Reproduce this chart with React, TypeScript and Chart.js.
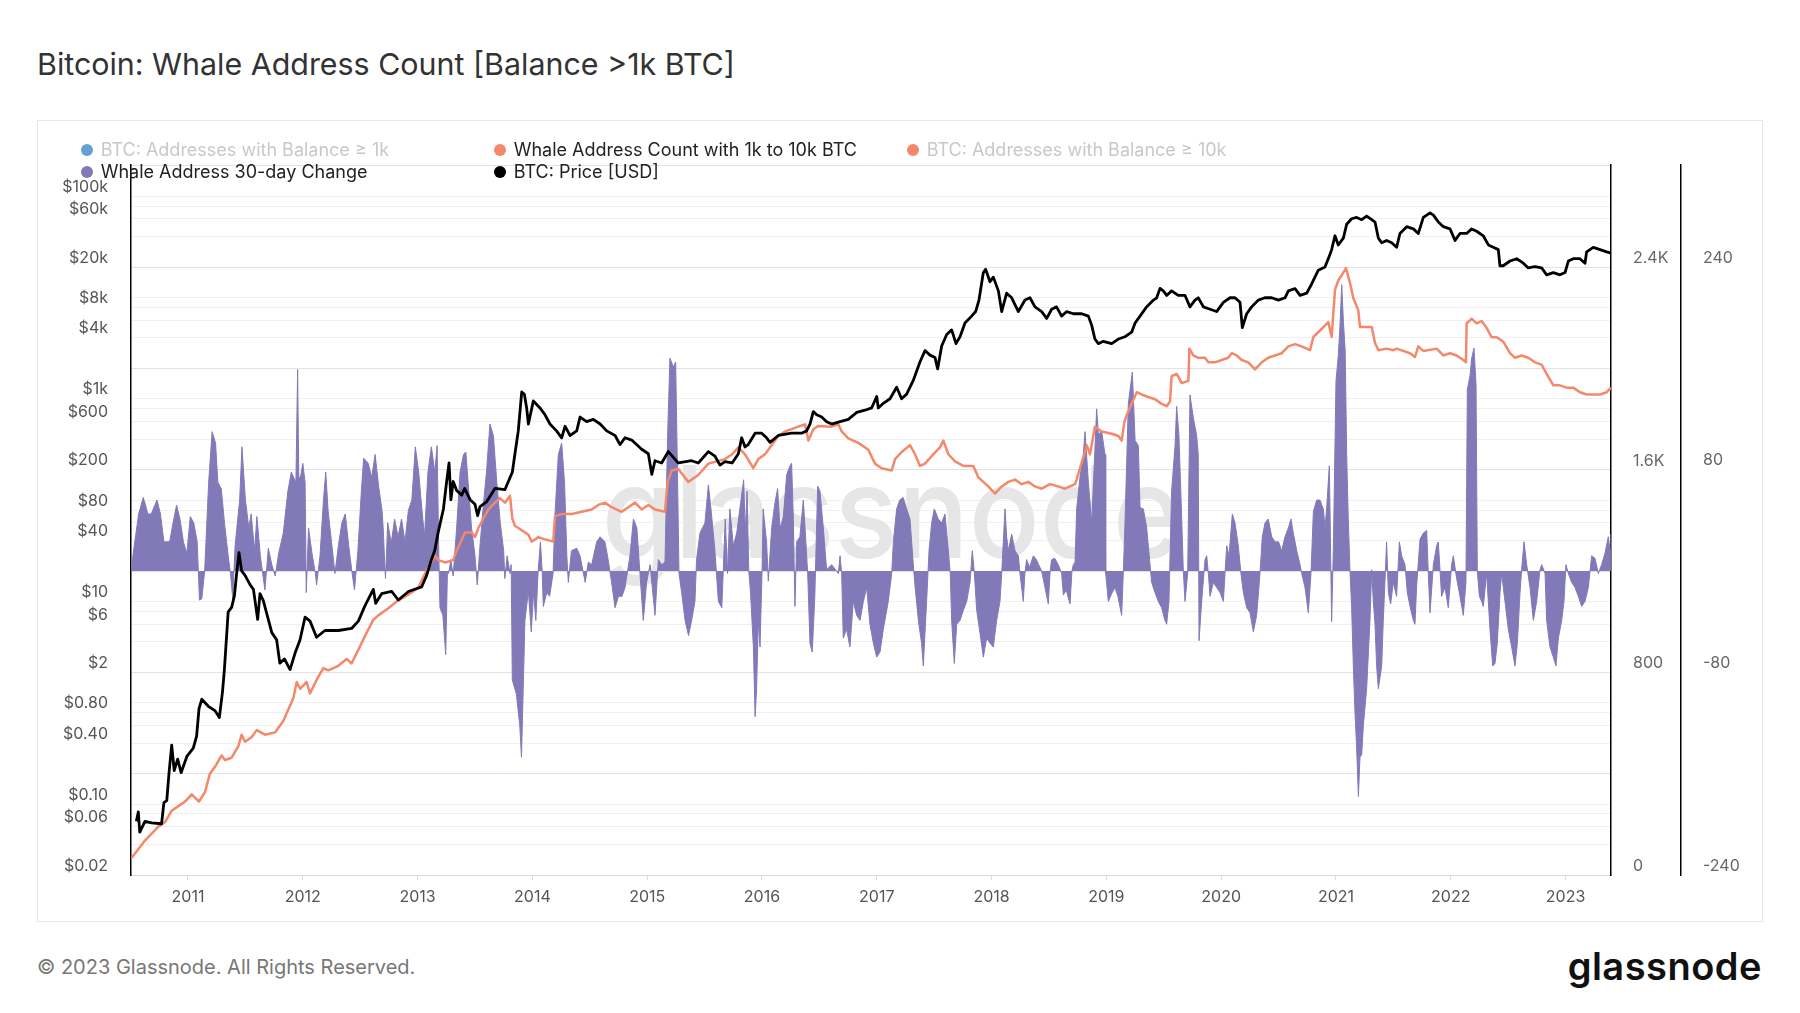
import React, { useEffect, useRef } from 'react';
import Chart from 'chart.js/auto';

// [decimal year, value]
const btcPrice: [number, number][] = [
  [2010.55, 0.055], [2010.567, 0.068], [2010.58, 0.043], [2010.625, 0.055], [2010.683, 0.053],
  [2010.77, 0.052], [2010.79, 0.084], [2010.815, 0.088], [2010.835, 0.166], [2010.858, 0.31],
  [2010.88, 0.174], [2010.91, 0.226], [2010.94, 0.166], [2010.99, 0.24], [2011.046, 0.29],
  [2011.075, 0.38], [2011.096, 0.71], [2011.12, 0.88], [2011.177, 0.75], [2011.235, 0.68],
  [2011.273, 0.58], [2011.3, 1.03], [2011.317, 1.73], [2011.33, 2.9], [2011.35, 6.4],
  [2011.38, 7.1], [2011.404, 9.2], [2011.424, 15.5], [2011.444, 24.7], [2011.467, 16.3],
  [2011.497, 14.7], [2011.54, 11.9], [2011.57, 10.7], [2011.607, 5.4], [2011.627, 9.7],
  [2011.656, 8.3], [2011.73, 4.0], [2011.772, 3.4], [2011.8, 2.0], [2011.84, 2.2],
  [2011.889, 1.73], [2011.932, 2.5], [2011.976, 3.4], [2012.02, 5.7], [2012.063, 5.2],
  [2012.12, 3.6], [2012.193, 4.2], [2012.31, 4.2], [2012.425, 4.4], [2012.484, 5.2],
  [2012.542, 7.4], [2012.614, 10.7], [2012.635, 7.8], [2012.687, 9.7], [2012.774, 10.2],
  [2012.832, 8.4], [2012.92, 10.2], [2013.035, 11.3], [2013.079, 14.7], [2013.12, 21],
  [2013.15, 26], [2013.18, 39.5], [2013.225, 66.5], [2013.253, 124], [2013.274, 189],
  [2013.29, 82], [2013.31, 124], [2013.34, 101], [2013.384, 91], [2013.41, 106],
  [2013.457, 82], [2013.5, 74], [2013.523, 57], [2013.544, 70], [2013.6, 78],
  [2013.674, 106], [2013.76, 103], [2013.825, 153], [2013.848, 233], [2013.877, 392],
  [2013.907, 950], [2013.93, 900], [2013.95, 660], [2013.965, 458], [2014.008, 773],
  [2014.066, 660], [2014.11, 565], [2014.153, 458], [2014.21, 392], [2014.255, 335],
  [2014.284, 435], [2014.328, 353], [2014.386, 392], [2014.415, 537], [2014.473, 483],
  [2014.53, 509], [2014.59, 458], [2014.647, 392], [2014.72, 353], [2014.763, 287],
  [2014.807, 335], [2014.865, 318], [2014.952, 258], [2015.01, 233], [2015.04, 146],
  [2015.068, 199], [2015.126, 189], [2015.184, 245], [2015.271, 189], [2015.387, 199],
  [2015.445, 189], [2015.533, 245], [2015.59, 221], [2015.634, 180], [2015.678, 195],
  [2015.74, 189], [2015.794, 233], [2015.823, 335], [2015.852, 272], [2015.88, 287],
  [2015.94, 372], [2015.997, 372], [2016.04, 335], [2016.07, 302], [2016.142, 353],
  [2016.258, 372], [2016.345, 372], [2016.389, 392], [2016.418, 458], [2016.447, 608],
  [2016.476, 565], [2016.52, 537], [2016.563, 483], [2016.607, 458], [2016.68, 483],
  [2016.752, 509], [2016.825, 596], [2016.897, 627], [2016.955, 660], [2016.999, 857],
  [2017.013, 660], [2017.057, 733], [2017.115, 813], [2017.173, 1057], [2017.216, 813],
  [2017.26, 903], [2017.318, 1235], [2017.376, 1875], [2017.42, 2430], [2017.463, 2193],
  [2017.507, 2080], [2017.53, 1603], [2017.565, 2700], [2017.609, 3506], [2017.652, 3890],
  [2017.69, 2845], [2017.725, 3327], [2017.768, 4550], [2017.826, 5320], [2017.861, 5900],
  [2017.89, 7660], [2017.928, 14300], [2017.948, 15400], [2017.986, 11630], [2018.015, 12900],
  [2018.059, 9440], [2018.088, 5900], [2018.131, 8960], [2018.175, 8070], [2018.233, 5900],
  [2018.291, 7660], [2018.334, 8070], [2018.378, 6560], [2018.436, 5900], [2018.48, 5050],
  [2018.523, 6220], [2018.566, 6560], [2018.61, 5320], [2018.654, 5900], [2018.712, 5610],
  [2018.785, 5610], [2018.843, 5320], [2018.872, 4310], [2018.9, 3160], [2018.93, 2845],
  [2018.973, 3000], [2019.046, 2845], [2019.104, 3160], [2019.162, 3330], [2019.22, 3690],
  [2019.25, 4550], [2019.293, 5320], [2019.35, 6560], [2019.41, 7660], [2019.438, 8070],
  [2019.467, 9990], [2019.496, 9440], [2019.525, 8510], [2019.568, 9440], [2019.626, 8510],
  [2019.685, 8510], [2019.728, 6560], [2019.772, 7660], [2019.8, 8070], [2019.845, 6560],
  [2019.903, 6220], [2019.96, 5900], [2020.019, 7280], [2020.077, 8070], [2020.12, 8070],
  [2020.164, 7280], [2020.184, 4100], [2020.222, 5610], [2020.265, 6560], [2020.324, 7660],
  [2020.38, 8070], [2020.44, 8070], [2020.498, 7660], [2020.556, 8070], [2020.585, 9440],
  [2020.643, 9950], [2020.687, 8510], [2020.745, 8960], [2020.788, 11040], [2020.846, 15100],
  [2020.904, 16200], [2020.948, 21700], [2020.962, 24100], [2020.991, 33000], [2021.02, 26800],
  [2021.064, 31300], [2021.093, 42900], [2021.136, 48600], [2021.18, 50100], [2021.224, 47600],
  [2021.267, 51700], [2021.311, 47600], [2021.34, 45100], [2021.369, 31300], [2021.398, 28200],
  [2021.441, 29700], [2021.485, 28200], [2021.528, 25400], [2021.557, 34800], [2021.616, 40600],
  [2021.674, 38600], [2021.717, 34800], [2021.761, 50100], [2021.819, 55600], [2021.848, 52800],
  [2021.892, 45100], [2021.935, 40600], [2021.993, 38600], [2022.037, 29700], [2022.08, 34800],
  [2022.138, 34800], [2022.182, 38600], [2022.225, 36600], [2022.283, 33000], [2022.327, 26800],
  [2022.37, 25400], [2022.414, 24100], [2022.428, 16700], [2022.457, 16700], [2022.516, 18600],
  [2022.574, 19600], [2022.632, 17700], [2022.675, 15900], [2022.733, 16400], [2022.791, 15900],
  [2022.835, 13600], [2022.893, 14300], [2022.951, 13600], [2022.995, 14300], [2023.024, 18600],
  [2023.067, 19600], [2023.125, 19600], [2023.169, 17700], [2023.183, 22900], [2023.241, 25400],
  [2023.3, 24100], [2023.358, 22900], [2023.395, 22300],
];

const whaleCount: [number, number][] = [
  [2010.503, 64], [2010.625, 136], [2010.742, 191], [2010.8, 209], [2010.858, 254], [2010.916, 272],
  [2010.974, 290], [2011.032, 318], [2011.096, 290], [2011.148, 327], [2011.191, 400], [2011.235, 427],
  [2011.293, 472], [2011.322, 454], [2011.38, 463], [2011.438, 508], [2011.467, 554], [2011.497, 526],
  [2011.555, 545], [2011.598, 572], [2011.671, 554], [2011.758, 563], [2011.83, 608], [2011.874, 653],
  [2011.918, 699], [2011.947, 762], [2011.976, 735], [2012.034, 762], [2012.063, 717], [2012.121, 771],
  [2012.179, 817], [2012.222, 808], [2012.309, 826], [2012.382, 853], [2012.425, 835], [2012.484, 889],
  [2012.542, 944], [2012.614, 1007], [2012.658, 1025], [2012.745, 1053], [2012.818, 1080], [2012.919, 1107],
  [2013.006, 1134], [2013.064, 1189], [2013.151, 1261], [2013.18, 1243], [2013.24, 1234], [2013.31, 1243],
  [2013.34, 1279], [2013.413, 1352], [2013.471, 1352], [2013.5, 1334], [2013.529, 1370], [2013.573, 1407],
  [2013.616, 1443], [2013.674, 1470], [2013.718, 1488], [2013.761, 1470], [2013.805, 1497], [2013.825, 1407],
  [2013.848, 1379], [2013.907, 1361], [2013.965, 1343], [2013.994, 1316], [2014.052, 1334], [2014.11, 1325],
  [2014.182, 1316], [2014.197, 1416], [2014.255, 1425], [2014.342, 1425], [2014.429, 1434], [2014.516, 1443],
  [2014.574, 1461], [2014.632, 1470], [2014.69, 1452], [2014.778, 1434], [2014.836, 1452], [2014.894, 1470],
  [2014.952, 1443], [2015.01, 1461], [2015.068, 1443], [2015.155, 1434], [2015.178, 1552], [2015.213, 1597],
  [2015.271, 1603], [2015.358, 1552], [2015.445, 1579], [2015.533, 1624], [2015.678, 1642], [2015.74, 1661],
  [2015.794, 1688], [2015.852, 1661], [2015.924, 1606], [2015.968, 1642], [2016.026, 1661], [2016.084, 1697],
  [2016.142, 1733], [2016.2, 1751], [2016.258, 1760], [2016.316, 1770], [2016.375, 1779], [2016.404, 1715],
  [2016.447, 1760], [2016.491, 1773], [2016.607, 1770], [2016.665, 1779], [2016.694, 1751], [2016.752, 1724],
  [2016.839, 1706], [2016.926, 1679], [2016.984, 1624], [2017.042, 1606], [2017.13, 1597], [2017.159, 1642],
  [2017.217, 1670], [2017.289, 1697], [2017.333, 1661], [2017.376, 1615], [2017.42, 1624], [2017.492, 1661],
  [2017.55, 1688], [2017.58, 1715], [2017.623, 1661], [2017.681, 1633], [2017.754, 1615], [2017.841, 1615],
  [2017.884, 1570], [2017.971, 1534], [2018.03, 1506], [2018.088, 1534], [2018.146, 1552], [2018.204, 1561],
  [2018.262, 1543], [2018.32, 1552], [2018.378, 1534], [2018.436, 1525], [2018.509, 1543], [2018.581, 1534],
  [2018.639, 1525], [2018.727, 1543], [2018.741, 1561], [2018.77, 1606], [2018.814, 1670], [2018.828, 1697],
  [2018.857, 1661], [2018.9, 1770], [2018.959, 1751], [2019.046, 1742], [2019.104, 1733], [2019.133, 1715],
  [2019.156, 1788], [2019.177, 1815], [2019.22, 1860], [2019.264, 1906], [2019.307, 1897], [2019.365, 1887],
  [2019.423, 1878], [2019.481, 1860], [2019.525, 1851], [2019.554, 1869], [2019.568, 1969], [2019.612, 1978],
  [2019.656, 1942], [2019.714, 1951], [2019.723, 2078], [2019.757, 2051], [2019.8, 2042], [2019.859, 2042],
  [2019.888, 2024], [2019.946, 2024], [2020.004, 2033], [2020.062, 2042], [2020.091, 2060], [2020.135, 2051],
  [2020.178, 2033], [2020.236, 2024], [2020.294, 1996], [2020.353, 2024], [2020.41, 2042], [2020.469, 2051],
  [2020.527, 2060], [2020.585, 2087], [2020.643, 2096], [2020.701, 2087], [2020.774, 2072], [2020.803, 2124],
  [2020.89, 2163], [2020.933, 2183], [2020.962, 2124], [2020.991, 2309], [2021.02, 2348], [2021.05, 2368],
  [2021.087, 2396], [2021.122, 2337], [2021.151, 2277], [2021.194, 2230], [2021.209, 2163], [2021.311, 2163],
  [2021.34, 2100], [2021.369, 2072], [2021.441, 2078], [2021.5, 2072], [2021.528, 2078], [2021.645, 2060],
  [2021.688, 2045], [2021.717, 2087], [2021.761, 2069], [2021.877, 2078], [2021.935, 2051], [2021.993, 2060],
  [2022.051, 2051], [2022.109, 2033], [2022.132, 2024], [2022.138, 2178], [2022.182, 2196], [2022.225, 2178],
  [2022.269, 2187], [2022.312, 2160], [2022.356, 2123], [2022.4, 2123], [2022.458, 2105], [2022.516, 2060],
  [2022.559, 2042], [2022.617, 2051], [2022.675, 2042], [2022.733, 2024], [2022.791, 2015], [2022.835, 1978],
  [2022.893, 1933], [2022.951, 1933], [2023.009, 1924], [2023.067, 1924], [2023.125, 1906], [2023.183, 1897],
  [2023.3, 1897], [2023.358, 1906], [2023.395, 1924],
];

const whaleChange30d: [number, number][] = [
  [2010.51, 0], [2010.52, 12], [2010.57, 45], [2010.61, 58], [2010.63, 52], [2010.65, 45], [2010.68, 45],
  [2010.73, 56], [2010.76, 45], [2010.79, 23], [2010.84, 23], [2010.87, 38], [2010.9, 52], [2010.93, 41],
  [2010.96, 23], [2010.99, 14], [2011.02, 43], [2011.05, 38], [2011.08, 23], [2011.09, 0], [2011.1, -23],
  [2011.12, -22], [2011.145, 0], [2011.18, 70], [2011.21, 110], [2011.24, 101], [2011.26, 70], [2011.29, 65],
  [2011.32, 36], [2011.35, 12], [2011.37, -2], [2011.39, -22], [2011.41, 20], [2011.45, 56], [2011.47, 98],
  [2011.5, 56], [2011.53, 34], [2011.55, 45], [2011.58, 16], [2011.6, 43], [2011.63, 12], [2011.67, -15],
  [2011.7, 18], [2011.73, 5], [2011.76, -4], [2011.79, 14], [2011.83, 30], [2011.87, 63], [2011.9, 78],
  [2011.94, 70], [2011.955, 159], [2011.965, 74], [2011.98, 74], [2012.0, 85], [2012.02, 70], [2012.03, -17],
  [2012.05, 34], [2012.08, 14], [2012.11, -2], [2012.12, -11], [2012.15, 12], [2012.18, 56], [2012.2, 78],
  [2012.22, 48], [2012.25, 23], [2012.28, -2], [2012.31, 20], [2012.34, 38], [2012.37, 45], [2012.4, 20],
  [2012.43, -2], [2012.45, -15], [2012.48, 16], [2012.51, 63], [2012.53, 89], [2012.57, 85], [2012.6, 74],
  [2012.63, 92], [2012.66, 67], [2012.69, 48], [2012.7, 34], [2012.72, -6], [2012.74, 38], [2012.77, 22],
  [2012.8, 41], [2012.83, 27], [2012.86, 41], [2012.89, 23], [2012.92, 48], [2012.95, 56], [2012.98, 98],
  [2013.01, 78], [2013.03, 56], [2013.06, 27], [2013.09, 78], [2013.12, 98], [2013.15, 78], [2013.17, 99],
  [2013.185, 12], [2013.195, -29], [2013.22, -35], [2013.245, -66], [2013.26, 0], [2013.27, -2], [2013.29, 9],
  [2013.31, -4], [2013.34, 34], [2013.37, 78], [2013.4, 92], [2013.42, 94], [2013.44, 70], [2013.47, 34],
  [2013.5, 12], [2013.52, -11], [2013.54, 16], [2013.57, 49], [2013.6, 78], [2013.63, 116], [2013.66, 107],
  [2013.69, 70], [2013.72, 38], [2013.75, 16], [2013.76, -6], [2013.78, 12], [2013.805, -2], [2013.815, 5],
  [2013.825, -86], [2013.86, -97], [2013.89, -122], [2013.905, -147], [2013.92, -93], [2013.935, -39],
  [2013.965, -16], [2013.99, -48], [2014.01, -17], [2014.03, -39], [2014.05, 0], [2014.07, 23], [2014.085, 0],
  [2014.095, -28], [2014.125, -17], [2014.15, -20], [2014.18, -2], [2014.197, 45], [2014.226, 92],
  [2014.255, 101], [2014.28, 70], [2014.3, 12], [2014.313, -9], [2014.34, 16], [2014.386, 18], [2014.415, 12],
  [2014.46, -9], [2014.487, 7], [2014.516, 5], [2014.56, 23], [2014.59, 27], [2014.632, 23], [2014.66, 9],
  [2014.69, -9], [2014.72, -29], [2014.75, -20], [2014.78, -20], [2014.807, -13], [2014.85, 12], [2014.88, 41],
  [2014.91, 34], [2014.937, -2], [2014.966, -39], [2014.995, -9], [2015.025, 5], [2015.068, -35], [2015.097, 9],
  [2015.126, 5], [2015.155, 7], [2015.178, 107], [2015.198, 168], [2015.228, 161], [2015.248, 165],
  [2015.265, 70], [2015.277, -2], [2015.3, -17], [2015.33, -39], [2015.36, -51], [2015.387, -39],
  [2015.416, -24], [2015.43, 9], [2015.46, 30], [2015.503, 38], [2015.533, 68], [2015.56, 45], [2015.59, 16],
  [2015.62, -24], [2015.65, -29], [2015.68, 41], [2015.7, -2], [2015.72, 49], [2015.75, 20], [2015.78, 30],
  [2015.84, 72], [2015.855, 30], [2015.87, 63], [2015.885, 0], [2015.9, -17], [2015.925, -60], [2015.94, -115],
  [2015.953, -93], [2015.968, -39], [2015.983, -60], [2016.0, -2], [2016.01, 49], [2016.04, 23], [2016.055, -8],
  [2016.084, 34], [2016.113, 54], [2016.136, 65], [2016.157, 34], [2016.186, 43], [2016.215, 76],
  [2016.244, 83], [2016.258, 85], [2016.273, 41], [2016.287, -28], [2016.302, 23], [2016.33, 27], [2016.36, 56],
  [2016.375, 34], [2016.398, -2], [2016.418, -57], [2016.438, -64], [2016.46, -20], [2016.485, 67],
  [2016.505, 63], [2016.534, 34], [2016.563, 1], [2016.607, 5], [2016.665, -2], [2016.68, 12], [2016.694, -2],
  [2016.708, -53], [2016.737, -46], [2016.766, -60], [2016.795, -24], [2016.825, -35], [2016.854, -39],
  [2016.883, -24], [2016.912, -13], [2016.94, -42], [2016.97, -57], [2016.999, -68], [2017.028, -64],
  [2017.057, -46], [2017.1, -24], [2017.13, -2], [2017.144, 23], [2017.173, 49], [2017.2, 56], [2017.23, 58],
  [2017.26, 49], [2017.289, 41], [2017.318, 5], [2017.33, -9], [2017.362, -39], [2017.39, -57], [2017.405, -75],
  [2017.434, -24], [2017.455, 16], [2017.478, 38], [2017.501, 49], [2017.536, 41], [2017.565, 38],
  [2017.594, 45], [2017.623, 16], [2017.64, -2], [2017.652, -39], [2017.675, -73], [2017.696, -42],
  [2017.725, -39], [2017.754, -31], [2017.783, -24], [2017.812, -9], [2017.832, 16], [2017.85, -2],
  [2017.87, -31], [2017.899, -49], [2017.928, -68], [2017.957, -53], [2017.986, -57], [2018.015, -60],
  [2018.044, -39], [2018.073, -24], [2018.088, -2], [2018.102, 23], [2018.117, 49], [2018.131, 27],
  [2018.146, 16], [2018.175, 29], [2018.204, 16], [2018.233, 12], [2018.247, -2], [2018.276, -24],
  [2018.29, -2], [2018.305, 9], [2018.33, 3], [2018.364, 12], [2018.39, 9], [2018.41, 5], [2018.436, 0],
  [2018.465, -13], [2018.494, -26], [2018.51, 0], [2018.523, 9], [2018.55, 10], [2018.581, 5], [2018.61, -2],
  [2018.625, -19], [2018.65, -15], [2018.683, -26], [2018.7, 0], [2018.712, 5], [2018.727, 7], [2018.741, 49],
  [2018.77, 74], [2018.799, 92], [2018.814, 110], [2018.843, 70], [2018.872, 38], [2018.9, 96], [2018.915, 128],
  [2018.93, 108], [2018.959, 110], [2018.988, 92], [2018.994, -2], [2019.017, -24], [2019.045, -18],
  [2019.075, -13], [2019.1, -20], [2019.133, -35], [2019.148, 0], [2019.162, 38], [2019.191, 132],
  [2019.226, 157], [2019.25, 103], [2019.278, 99], [2019.293, 50], [2019.322, 49], [2019.351, 34], [2019.38, 5],
  [2019.394, -9], [2019.423, -17], [2019.452, -24], [2019.481, -29], [2019.51, -39], [2019.525, -42],
  [2019.545, -24], [2019.568, 63], [2019.598, 99], [2019.612, 130], [2019.632, 107], [2019.656, 41],
  [2019.67, 0], [2019.685, -24], [2019.708, -2], [2019.728, 139], [2019.757, 121], [2019.786, 107],
  [2019.8, 92], [2019.807, -55], [2019.83, -24], [2019.859, 9], [2019.874, 12], [2019.888, -2], [2019.903, -20],
  [2019.932, -9], [2019.96, -13], [2019.99, -17], [2020.019, -24], [2020.033, -2], [2020.048, 20],
  [2020.068, 12], [2020.097, 45], [2020.12, 38], [2020.149, 20], [2020.172, -2], [2020.193, -17],
  [2020.222, -29], [2020.251, -33], [2020.28, -48], [2020.309, -35], [2020.338, -2], [2020.358, 27],
  [2020.382, 38], [2020.41, 41], [2020.44, 27], [2020.469, 23], [2020.5, 23], [2020.527, 16], [2020.556, 27],
  [2020.585, 34], [2020.608, 41], [2020.628, 30], [2020.658, 16], [2020.687, 5], [2020.701, -2], [2020.73, -13],
  [2020.759, -33], [2020.782, -2], [2020.803, 47], [2020.832, 56], [2020.86, 56], [2020.89, 49], [2020.904, 34],
  [2020.919, 50], [2020.942, 83], [2020.962, -40], [2020.977, 18], [2021.0, 150], [2021.02, 170],
  [2021.035, 194], [2021.05, 226], [2021.065, 196], [2021.08, 174], [2021.093, 92], [2021.107, 41],
  [2021.122, 0], [2021.136, -28], [2021.151, -75], [2021.165, -111], [2021.18, -140], [2021.195, -178],
  [2021.209, -147], [2021.224, -145], [2021.238, -122], [2021.267, -93], [2021.296, -39], [2021.311, 1],
  [2021.325, -24], [2021.34, -42], [2021.354, -75], [2021.369, -93], [2021.398, -75], [2021.412, -39],
  [2021.441, 23], [2021.456, -17], [2021.476, -26], [2021.499, -9], [2021.528, -20], [2021.552, 23],
  [2021.572, 12], [2021.601, 5], [2021.621, -17], [2021.645, -28], [2021.674, -39], [2021.688, -42],
  [2021.703, -11], [2021.732, 25], [2021.761, 30], [2021.79, 32], [2021.804, -2], [2021.819, -33],
  [2021.848, 5], [2021.877, 20], [2021.891, 23], [2021.92, -20], [2021.949, -13], [2021.978, -29],
  [2022.007, 5], [2022.022, 12], [2022.051, -6], [2022.08, -20], [2022.109, -35], [2022.132, -9],
  [2022.144, 143], [2022.167, 154], [2022.182, 168], [2022.202, 176], [2022.22, 147], [2022.231, 0],
  [2022.249, -20], [2022.269, -24], [2022.283, -28], [2022.312, -2], [2022.327, -24], [2022.341, -46],
  [2022.365, -75], [2022.385, -73], [2022.405, -57], [2022.429, -17], [2022.443, -2], [2022.472, -24],
  [2022.501, -46], [2022.53, -60], [2022.559, -75], [2022.58, -57], [2022.603, -17], [2022.617, 1],
  [2022.638, 23], [2022.661, 5], [2022.69, -13], [2022.719, -39], [2022.748, -24], [2022.777, 1],
  [2022.792, 5], [2022.821, -2], [2022.835, -39], [2022.864, -60], [2022.893, -68], [2022.916, -75],
  [2022.937, -53], [2022.966, -39], [2022.986, -24], [2023.003, 5], [2023.024, -2], [2023.053, -9],
  [2023.082, -13], [2023.111, -20], [2023.14, -28], [2023.169, -24], [2023.198, -13], [2023.227, 12],
  [2023.256, 10], [2023.285, -2], [2023.314, 5], [2023.343, 14], [2023.372, 27], [2023.387, 16], [2023.395, 29],
];

const yearTicks = [2011, 2012, 2013, 2014, 2015, 2016, 2017, 2018, 2019, 2020, 2021, 2022, 2023];
const priceTicks = [100000, 60000, 20000, 8000, 4000, 1000, 600, 200, 80, 40, 10, 6, 2, 0.8, 0.4, 0.1, 0.06, 0.02];
const priceTickLabels = ['$100k', '$60k', '$20k', '$8k', '$4k', '$1k', '$600', '$200', '$80', '$40', '$10', '$6', '$2', '$0.80', '$0.40', '$0.10', '$0.06', '$0.02'];
const whaleTicks = [0, 800, 1600, 2400];
const whaleTickLabels = ['0', '800', '1.6K', '2.4K'];
const changeTicks = [-240, -80, 80, 240];
const changeTickLabels = ['-240', '-80', '80', '240'];

const legendItems = [
  { label: 'BTC: Addresses with Balance ≥ 1k', color: '#64a0d2', active: false },
  { label: 'Whale Address Count with 1k to 10k BTC', color: '#f4886b', active: true },
  { label: 'BTC: Addresses with Balance ≥ 10k', color: '#f4886b', active: false },
  { label: 'Whale Address 30-day Change', color: '#8279b8', active: true },
  { label: 'BTC: Price [USD]', color: '#000000', active: true },
];

const FONT = 'Inter, "Noto Sans", sans-serif';

const watermark = {
  id: 'watermark',
  beforeDatasetsDraw(chart: any) {
    const { ctx, chartArea } = chart;
    const w = chartArea.right - chartArea.left;
    const h = chartArea.bottom - chartArea.top;
    ctx.save();
    ctx.font = '500 128px Inter';
    ctx.fillStyle = '#e6e6e6';
    ctx.textBaseline = 'alphabetic';
    ctx.textAlign = 'left';
    const text = 'glassnode';
    const tw = ctx.measureText(text).width;
    const target = w * 0.392;
    const cx = chartArea.left + w * 0.514;
    const by = chartArea.top + h * 0.553;
    ctx.translate(cx - target / 2, by);
    ctx.scale(target / tw, 1);
    ctx.fillText(text, 0, 0);
    ctx.restore();
  },
};

const WhaleChart: React.FC = () => {
  const canvasRef = useRef<HTMLCanvasElement | null>(null);

  useEffect(() => {
    if (!canvasRef.current) return;
    Chart.defaults.font.family = FONT;
    Chart.defaults.font.size = 16;
    Chart.defaults.color = '#555';

    const chart = new Chart(canvasRef.current, {
      type: 'line',
      data: {
        datasets: [
          {
            label: 'BTC: Price [USD]',
            data: btcPrice.map(([x, y]) => ({ x, y })),
            yAxisID: 'y',
            borderColor: '#000',
            borderWidth: 2.8,
            borderJoinStyle: 'round',
            pointRadius: 0,
            tension: 0,
            order: 1,
          },
          {
            label: 'Whale Address Count with 1k to 10k BTC',
            data: whaleCount.map(([x, y]) => ({ x, y })),
            yAxisID: 'y1',
            borderColor: '#f4886b',
            borderWidth: 2.5,
            borderJoinStyle: 'round',
            pointRadius: 0,
            tension: 0,
            order: 2,
          },
          {
            label: 'Whale Address 30-day Change',
            data: whaleChange30d.map(([x, y]) => ({ x, y })),
            yAxisID: 'y2',
            borderColor: '#8279b8',
            backgroundColor: '#8279b8',
            borderWidth: 1,
            pointRadius: 0,
            tension: 0,
            fill: 'origin',
            order: 3,
          },
        ],
      },
      options: {
        animation: false,
        responsive: false,
        layout: { padding: { top: 44, left: 0, right: 0, bottom: 0 } },
        plugins: { legend: { display: false }, tooltip: { enabled: false } },
        scales: {
          x: {
            type: 'linear',
            min: 2010.5035,
            max: 2023.3955,
            afterBuildTicks: (s: any) => { s.ticks = yearTicks.map((v) => ({ value: v })); },
            afterFit: (s: any) => { s.height = 46; },
            ticks: { callback: (v: any) => String(v), padding: 8, color: '#555', autoSkip: false, maxRotation: 0 },
            grid: { drawOnChartArea: false, drawTicks: true, tickLength: 5, color: '#dcdcdc' },
            border: { color: '#dcdcdc', width: 1 },
          },
          y: {
            type: 'logarithmic',
            position: 'left',
            min: 0.016232,
            max: 164860,
            afterBuildTicks: (s: any) => { s.ticks = priceTicks.map((v) => ({ value: v })); },
            afterFit: (s: any) => { s.width = 93; },
            ticks: { callback: (_v: any, i: number) => priceTickLabels[i], padding: 23, color: '#555', autoSkip: false },
            grid: { display: false, drawTicks: false },
            border: { color: '#000', width: 1.5 },
          },
          y1: {
            type: 'linear',
            position: 'right',
            weight: 1,
            min: 0,
            max: 2803,
            afterBuildTicks: (s: any) => {
              const t: { value: number }[] = [];
              for (let k = 0; k < 7; k++) {
                t.push({ value: k * 400 });
                [2, 3, 4, 5].forEach((m) => t.push({ value: (k + Math.log10(m)) * 400 }));
              }
              t.push({ value: 2800 });
              s.ticks = t;
            },
            afterFit: (s: any) => { s.width = 70; },
            ticks: {
              callback: (v: any) => {
                const i = whaleTicks.findIndex((w) => Math.abs(w - Number(v)) < 0.5);
                return i >= 0 ? whaleTickLabels[i] : '';
              },
              padding: 22,
              labelOffset: -9,
              color: '#666',
              autoSkip: false,
            },
            grid: {
              drawTicks: false,
              color: (ctx: any) => {
                const v = ctx.tick ? ctx.tick.value : 0;
                return Math.abs(v / 400 - Math.round(v / 400)) < 0.001 ? '#e2e2e2' : '#f0f0f0';
              },
            },
            border: { color: '#000', width: 1.5 },
          },
          y2: {
            type: 'linear',
            position: 'right',
            weight: 2,
            min: -240,
            max: 320.5,
            afterBuildTicks: (s: any) => { s.ticks = changeTicks.map((v) => ({ value: v })); },
            afterFit: (s: any) => { s.width = 81; },
            ticks: { callback: (_v: any, i: number) => changeTickLabels[i], padding: 22, labelOffset: -9, color: '#666', autoSkip: false },
            grid: { display: false, drawTicks: false },
            border: { color: '#000', width: 1.5 },
          },
        },
      },
      plugins: [watermark],
    } as any);

    return () => {
      chart.destroy();
    };
  }, []);

  return <canvas ref={canvasRef} width={1724} height={800} style={{ position: 'absolute', left: 0, top: 0 }} />;
};

const App: React.FC = () => {
  return (
    <div style={{ position: 'absolute', left: 0, top: 0, width: 1800, height: 1013, background: '#fff', fontFamily: FONT, overflow: 'hidden' }}>
      <div style={{ position: 'absolute', left: 37, top: 46, fontSize: 30.4, lineHeight: '36px', color: '#333', whiteSpace: 'nowrap' }}>
        Bitcoin: Whale Address Count [Balance &gt;1k BTC]
      </div>
      <div style={{ position: 'absolute', left: 37, top: 120, width: 1726, height: 802, border: '1px solid #e6e6e6', boxSizing: 'border-box' }}>
        <WhaleChart />
      </div>
      <div
        style={{
          position: 'absolute',
          left: 81,
          top: 138.5,
          display: 'grid',
          gridTemplateColumns: '413px 413px 413px',
          rowGap: 0,
          fontSize: 18,
          lineHeight: '22px',
          pointerEvents: 'none',
        }}
      >
        {legendItems.map((item) => (
          <div key={item.label} style={{ display: 'flex', alignItems: 'center', whiteSpace: 'nowrap' }}>
            <span style={{ width: 12, height: 12, borderRadius: 6, background: item.color, marginRight: 7.7, flex: 'none' }} />
            <span style={{ color: item.active ? '#222' : '#c8c8c8' }}>{item.label}</span>
          </div>
        ))}
      </div>
      <div style={{ position: 'absolute', left: 37, top: 955, fontSize: 20, lineHeight: '24px', color: '#777', whiteSpace: 'nowrap' }}>
        © 2023 Glassnode. All Rights Reserved.
      </div>
      <div style={{ position: 'absolute', right: 38, top: 946, fontSize: 38, lineHeight: '40px', fontWeight: 600, color: '#111', letterSpacing: 0.5 }}>
        glassnode
      </div>
    </div>
  );
};

export default App;
